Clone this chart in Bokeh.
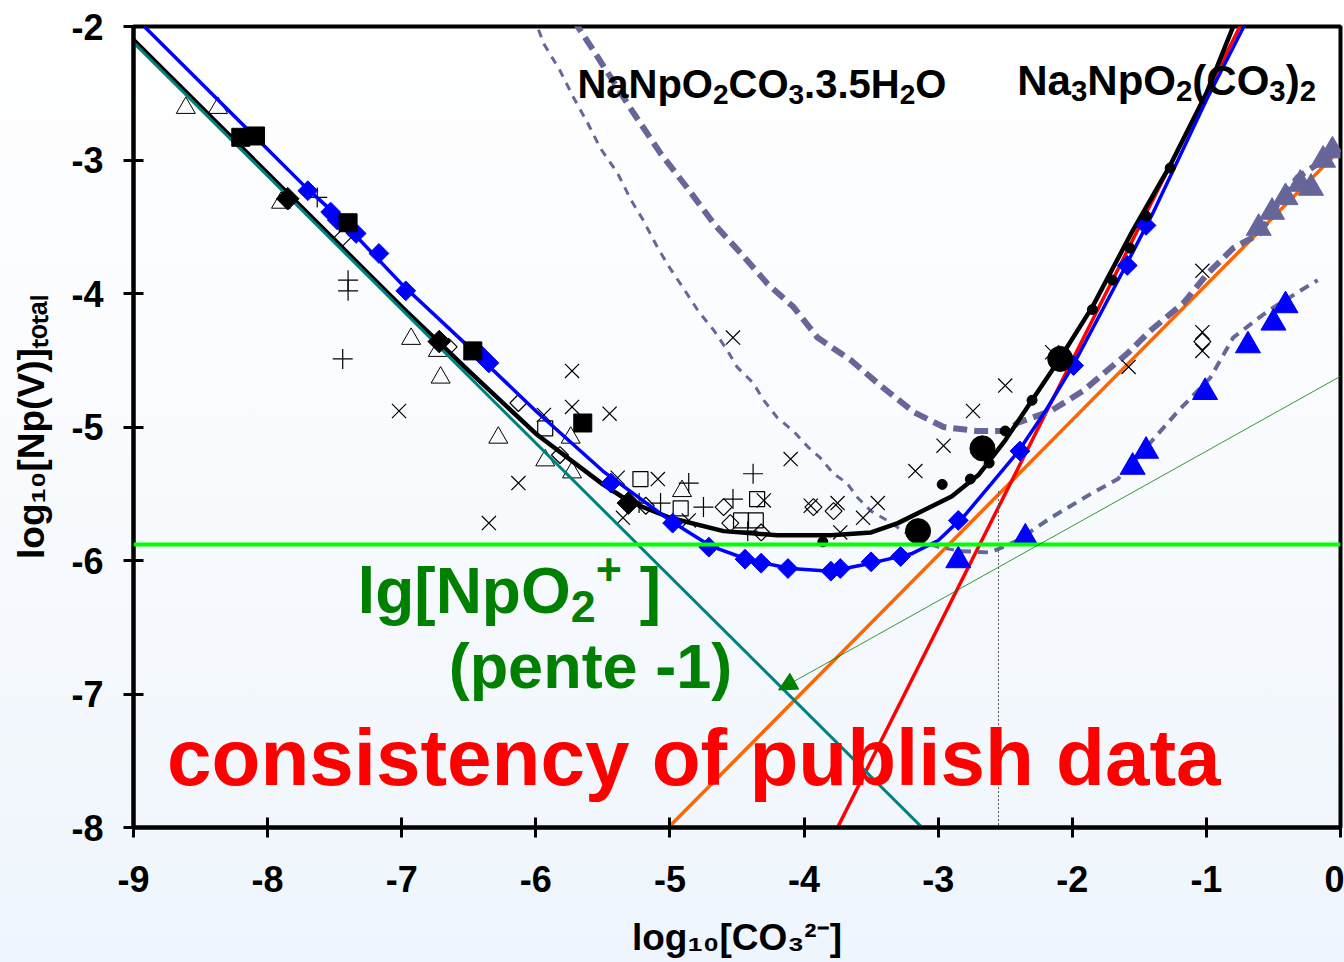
import math
from bokeh.plotting import figure
from bokeh.models import FixedTicker, Label, Arrow, NormalHead, Span, PrintfTickFormatter
from bokeh.embed import file_html
from bokeh.resources import INLINE

# ---------------- data ----------------
x_ticks = [-9, -8, -7, -6, -5, -4, -3, -2, -1, 0]
y_ticks = [-8, -7, -6, -5, -4, -3, -2]
x_title = "log\u2081\u2080[CO\u2083\u00b2\u207b]"
y_title = "log\u2081\u2080[Np(V)]\u209c\u2092\u209c\u2090\u2097"

# model curves
black_x = [-9.0, -8.5, -8.0, -7.5, -7.0, -6.5, -6.0, -5.5, -5.3, -5.0, -4.6, -4.2, -3.8, -3.5, -3.3, -3.1,
           -2.9, -2.7, -2.5, -2.3, -2.1, -1.85, -1.55, -1.27, -1.0, -0.76]
black_y = [-2.10, -2.60, -3.10, -3.60, -4.10, -4.58, -5.05, -5.43, -5.56, -5.68, -5.78, -5.81, -5.81, -5.79,
           -5.72, -5.62, -5.52, -5.36, -5.10, -4.80, -4.50, -4.10, -3.53, -3.04, -2.50, -1.90]

blue_x = [-9.0, -8.5, -8.0, -7.7, -7.5, -7.0, -6.5, -6.0, -5.5, -5.0, -4.7, -4.4, -4.1, -3.8, -3.5, -3.2,
          -3.0, -2.8, -2.6, -2.4, -2.2, -2.0, -1.8, -1.6, -1.4, -1.0, -0.67]
blue_y = [-1.92, -2.42, -2.92, -3.22, -3.40, -3.93, -4.40, -4.88, -5.33, -5.70, -5.89, -6.00, -6.06, -6.08,
          -6.02, -5.95, -5.85, -5.66, -5.42, -5.18, -4.88, -4.55, -4.17, -3.79, -3.40, -2.55, -1.90]

teal_x = [-9.0, -3.0]
teal_y = [-2.12, -8.12]
red_x = [-3.80, -0.70]
red_y = [-8.10, -1.90]
orange_x = [-5.11, 0.0]
orange_y = [-8.10, -2.92]
npo2_level = -5.88

# solubility of NaNpO2CO3.3.5H2O (thick dashed) and second dashed curve
dash1_x = [-5.72, -5.57, -5.27, -5.07, -4.87, -4.67, -4.47, -4.27, -4.08, -3.90, -3.65, -3.43, -3.18, -2.96,
           -2.71, -2.48, -2.41, -2.16, -1.92, -1.59, -1.42, -1.17, -0.99, -0.80, -0.60, -0.45, -0.32, -0.17, 0.0]
dash1_y = [-1.95, -2.18, -2.65, -2.95, -3.21, -3.48, -3.70, -3.93, -4.10, -4.33, -4.50, -4.69, -4.89, -5.00,
           -5.03, -5.03, -4.97, -4.88, -4.73, -4.45, -4.28, -4.07, -3.85, -3.66, -3.55, -3.30, -3.13, -3.03, -2.89]
dash2_x = [-6.02, -5.94, -5.82, -5.72, -5.61, -5.52, -5.39, -5.29, -5.20, -5.09, -5.00, -4.90, -4.79, -4.67,
           -4.57, -4.50, -4.38, -4.30, -4.20, -4.08, -3.97, -3.88, -3.78, -3.68, -3.60, -3.50, -3.38, -3.26,
           -3.15, -3.00, -2.83, -2.61, -2.41, -2.16, -1.86, -1.66, -1.42, -1.21, -0.97, -0.80, -0.54, -0.30, -0.17]
dash2_y = [-1.92, -2.13, -2.33, -2.53, -2.73, -2.91, -3.10, -3.30, -3.45, -3.66, -3.81, -3.96, -4.13, -4.28,
           -4.43, -4.55, -4.67, -4.80, -4.93, -5.03, -5.15, -5.23, -5.35, -5.42, -5.53, -5.63, -5.70, -5.78,
           -5.85, -5.90, -5.93, -5.94, -5.85, -5.68, -5.50, -5.39, -5.12, -4.88, -4.63, -4.33, -4.13, -3.98, -3.90]

# experimental points
bdia_x = [-7.70, -7.53, -7.48, -7.34, -7.17, -6.97, -6.41, -6.35, -5.44, -4.98, -4.71, -4.44, -4.32, -4.12,
          -3.80, -3.73, -3.50, -3.28, -2.85, -2.39, -1.99, -1.59, -1.45]
bdia_y = [-3.23, -3.39, -3.45, -3.55, -3.70, -3.98, -4.46, -4.52, -5.42, -5.72, -5.90, -5.99, -6.02, -6.06,
          -6.08, -6.06, -6.01, -5.97, -5.70, -5.18, -4.54, -3.79, -3.49]

btri_x = [-2.85, -2.35, -1.55, -1.45, -1.01, -0.69, -0.50, -0.41]
btri_y = [-6.00, -5.83, -5.30, -5.18, -4.74, -4.39, -4.22, -4.09]

gtri_x = [-0.61, -0.51, -0.41, -0.30, -0.22, -0.13, -0.06]
gtri_y = [-3.51, -3.39, -3.28, -3.18, -3.21, -3.00, -2.93]

otri_x = [-8.61, -8.37, -7.90, -6.93, -6.73, -6.71, -6.28, -5.93, -5.74, -5.73, -4.91]
otri_y = [-2.61, -2.61, -3.32, -4.34, -4.43, -4.63, -5.08, -5.25, -5.08, -5.34, -5.48]

xcross_x = [-7.02, -6.13, -6.35, -5.94, -5.73, -5.73, -5.45, -5.39, -5.35, -5.09, -4.86, -4.53, -4.30, -4.10,
            -3.95, -3.75, -3.73, -3.56, -3.45, -3.17, -2.96, -2.74, -2.50, -2.15, -1.58, -1.03, -1.03, -1.03]
xcross_y = [-4.88, -5.42, -5.72, -4.91, -4.58, -4.85, -4.90, -5.38, -5.68, -5.39, -5.70, -4.33, -5.55, -5.24,
            -5.59, -5.57, -5.79, -5.68, -5.57, -5.33, -5.14, -4.88, -4.69, -4.44, -4.55, -3.83, -4.29, -4.43]

plus_x = [-7.63, -7.40, -7.40, -7.44, -4.38, -4.86, -4.75, -5.07, -4.53, -5.23, -4.42]
plus_y = [-3.28, -3.90, -3.98, -4.49, -5.35, -5.42, -5.60, -5.57, -5.54, -5.57, -5.78]

osq_x = [-5.93, -5.22, -4.92, -4.47, -4.36, -4.35]
osq_y = [-5.01, -5.39, -5.61, -5.70, -5.70, -5.54]

odia_x = [-7.44, -6.65, -6.13, -5.82, -5.18, -4.60, -4.55, -3.93, -3.78, -4.32, -1.03]
odia_y = [-3.58, -4.40, -4.82, -5.21, -5.59, -5.60, -5.72, -5.60, -5.63, -5.79, -4.36]

fsq_x = [-8.20, -8.09, -7.40, -6.47, -5.65]
fsq_y = [-2.83, -2.82, -3.47, -4.43, -4.97]

fdia_x = [-7.85, -6.72, -5.31]
fdia_y = [-3.29, -4.36, -5.57]

bigdot_x = [-3.15, -2.67, -2.09]
bigdot_y = [-5.78, -5.16, -4.49]
dot_x = [-3.86, -2.97, -2.76, -2.62, -2.50, -2.30, -1.85, -1.70, -1.57, -1.45, -1.27]
dot_y = [-5.86, -5.43, -5.39, -5.27, -5.03, -4.80, -4.12, -3.90, -3.66, -3.42, -3.06]

# annotation arrow (from the right side towards the crossing) and callout line
arrow_x = [0.0, -4.19]
arrow_y = [-4.62, -6.97]
callout_x = [-2.55, -2.55]
callout_y = [-5.48, -8.0]

# ---------------- figure ----------------
FONT = "Liberation Sans"
SLATE = "#666699"

p = figure(width=1344, height=962, x_range=(-9, 0), y_range=(-8, -2),
           output_backend="svg", toolbar_location=None,
           min_border_left=133, min_border_right=4, min_border_top=26, min_border_bottom=135)
p.grid.visible = False
p.background_fill_color = None
p.border_fill_color = None
p.outline_line_color = "black"
p.outline_line_width = 4

p.xaxis.ticker = FixedTicker(ticks=x_ticks)
p.yaxis.ticker = FixedTicker(ticks=y_ticks)
for ax in (p.xaxis, p.yaxis):
    ax.formatter = PrintfTickFormatter(format="%d")
    ax.axis_line_width = 4
    ax.axis_line_color = "black"
    ax.major_tick_in = 10
    ax.major_tick_out = 10
    ax.major_tick_line_width = 3
    ax.major_tick_line_color = "black"
    ax.minor_tick_line_color = None
    ax.major_label_text_font = FONT
    ax.major_label_text_font_style = "bold"
    ax.major_label_text_font_size = "36px"
    ax.major_label_text_color = "black"
    ax.axis_label_text_font = FONT
    ax.axis_label_text_font_style = "bold"
    ax.axis_label_text_font_size = "37px"
    ax.axis_label_text_color = "black"
p.xaxis.major_label_standoff = 28
p.yaxis.major_label_standoff = 20
p.xaxis.axis_label = x_title
p.yaxis.axis_label = y_title
p.xaxis.axis_label_standoff = 22
p.yaxis.axis_label_standoff = 16

XPX = 1207 / 9.0   # px per x unit
YPX = 801 / 6.0    # px per y unit

# lines
p.add_layout(Span(location=npo2_level, dimension="width", line_color="#00FF00", line_width=4))
p.line(orange_x, orange_y, line_color="#FF6600", line_width=3.5)
p.line(red_x, red_y, line_color="#FF0000", line_width=3.5)
p.add_layout(Arrow(end=NormalHead(size=18, fill_color="#008000", line_color="#008000"),
                   x_start=arrow_x[0], y_start=arrow_y[0], x_end=arrow_x[1], y_end=arrow_y[1],
                   line_color="#008000", line_width=0.8))
p.line(callout_x, callout_y, line_color="#555555", line_width=1, line_dash="2 2")

p.line(dash1_x, dash1_y, line_color=SLATE, line_width=6, line_dash="14 7")
p.line(dash2_x[:31], dash2_y[:31], line_color=SLATE, line_width=3, line_dash="8 7")
p.line(dash2_x[30:], dash2_y[30:], line_color=SLATE, line_width=4, line_dash="10 7")

# open experimental symbols
p.scatter(otri_x, otri_y, marker="triangle", size=19, fill_color=None, line_color="black", line_width=1)
p.scatter(xcross_x, xcross_y, marker="x", size=20, line_color="black", line_width=1.2)
p.scatter(plus_x, plus_y, marker="cross", size=20, line_color="black", line_width=1.2)
p.scatter(osq_x, osq_y, marker="square", size=15, fill_color=None, line_color="black", line_width=1.2)
p.scatter(odia_x, odia_y, marker="square", angle=math.pi / 4, size=12, fill_color=None,
          line_color="black", line_width=1.2)

p.line(black_x, black_y, line_color="black", line_width=4.5)
p.line(teal_x, teal_y, line_color="#008080", line_width=3)
p.line(blue_x, blue_y, line_color="#0000FF", line_width=3.5)

p.scatter(bdia_x, bdia_y, marker="square", angle=math.pi / 4, size=14, fill_color="#0000FF", line_color="#0000FF")
p.scatter(fsq_x, fsq_y, marker="square", size=18, fill_color="black", line_color="black")
p.scatter(fdia_x, fdia_y, marker="square", angle=math.pi / 4, size=16, fill_color="black", line_color="black")
p.scatter(bigdot_x, bigdot_y, marker="circle", size=25, fill_color="black", line_color="black")
p.scatter(dot_x, dot_y, marker="circle", size=10, fill_color="black", line_color="black")
p.scatter(btri_x, btri_y, marker="triangle", size=25, fill_color="#0000FF", line_color="#0000FF")
p.scatter(gtri_x, gtri_y, marker="triangle", size=25, fill_color=SLATE, line_color=SLATE)

# ---------------- texts ----------------
WID = {'a': 556, 'b': 611, 'c': 556, 'd': 611, 'e': 556, 'f': 333, 'g': 611, 'h': 611, 'i': 278, 'l': 278,
       'n': 611, 'o': 611, 'p': 611, 's': 556, 't': 333, 'u': 611, 'y': 556, 'N': 722, 'O': 778, 'C': 722,
       'H': 722, 'V': 667, '[': 333, ']': 333, '(': 333, ')': 333, '+': 584, '-': 333, '.': 278, ' ': 278,
       '\u00a0': 278}


def tw(s):
    return sum(WID.get(ch, 556) for ch in s) / 1000.0


def rich(x0, y0, runs, size, color):
    pos = 0.0
    base = y0 + 0.36 * size / YPX   # correction for the renderer's baseline placement
    for txt, kind in runs:
        fs = size * 0.7 if kind else size
        shift = -0.25 * size if kind == "sub" else (0.33 * size if kind == "sup" else 0.0)
        p.add_layout(Label(x=x0 + pos / XPX, y=base + shift / YPX, text=txt, text_font=FONT,
                           text_font_style="bold", text_font_size=f"{fs:.1f}px", text_color=color,
                           text_align="left", text_baseline="alphabetic"))
        pos += tw(txt) * fs


pos_na1 = (-5.69, -2.54)
pos_na3 = (-2.41, -2.52)
pos_lg = (-7.33, -6.40)
pos_pente = (-6.65, -6.96)
pos_cons = (-8.75, -7.69)

rich(*pos_na1, [("NaNpO", ""), ("2", "sub"), ("CO", ""), ("3", "sub"), (".3.5H", ""), ("2", "sub"), ("O", "")],
     40, "black")
rich(*pos_na3, [("Na", ""), ("3", "sub"), ("NpO", ""), ("2", "sub"), ("(CO", ""), ("3", "sub"), (")", ""),
                ("2", "sub")], 42, "black")
rich(*pos_lg, [("lg[NpO", ""), ("2", "sub"), ("+", "sup"), ("\u00a0]", "")], 64, "#008000")
rich(*pos_pente, [("(pente -1)", "")], 63, "#008000")
rich(*pos_cons, [("consistency of publish data", "")], 80, "#FF0000")

html = file_html(p, INLINE, title="Np(V) solubility")
style = ("<style>html,body{margin:0;padding:0;min-height:100vh;"
         "background:linear-gradient(to bottom,#ffffff 0%,#f9fbfe 45%,#eef5fc 100%);}</style>")
html = html.replace("<head>", "<head>" + style, 1)
open("out.html", "w").write(html)
